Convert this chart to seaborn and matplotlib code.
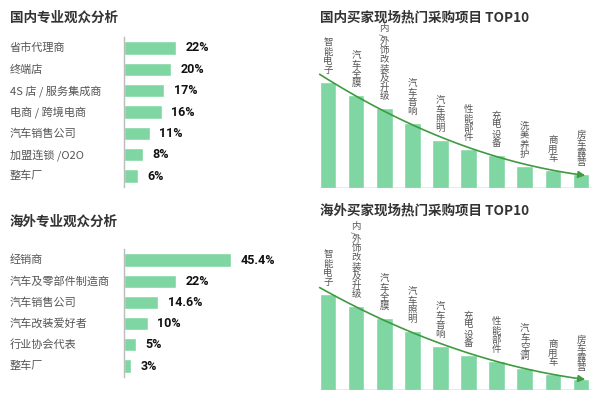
"""Exhibition visitor analysis: 4-panel seaborn recreation."""
import matplotlib
matplotlib.use("Agg")
import matplotlib.pyplot as plt
import matplotlib.transforms as mtransforms
import numpy as np
import pandas as pd
import seaborn as sns

# --- data ---
dom_types = ["省市代理商", "终端店", "4S 店 / 服务集成商", "电商 / 跨境电商", "汽车销售公司", "加盟连锁 /O2O", "整车厂"]
dom_share = [22, 20, 17, 16, 11, 8, 6]

ovs_types = ["经销商", "汽车及零部件制造商", "汽车销售公司", "汽车改装爱好者", "行业协会代表", "整车厂"]
ovs_share = [45.4, 22, 14.6, 10, 5, 3]

dom_items = ["智能电子", "汽车全膜", "内/外饰改装及升级", "汽车音响", "汽车照明",
             "性能部件", "充电设备", "洗美养护", "商用车", "房车露营"]
dom_score = [106, 93, 80, 65, 48, 39, 33, 22, 18, 14]

ovs_items = ["智能电子", "内/外饰改装及升级", "汽车全膜", "汽车照明", "汽车音响",
             "充电设备", "性能部件", "汽车空调", "商用车", "房车露营"]
ovs_score = [96, 84, 72, 59, 44, 35, 29, 22, 16, 11]

BAR = "#7fd6a2"
LINE = "#3f9a40"
W, H = 600, 400

sns.set_theme(style="white")
plt.rcParams["font.family"] = ["Noto Sans CJK SC", "DejaVu Sans"]

fig = plt.figure(figsize=(6, 4), dpi=100)
fig.patch.set_facecolor("white")


def px_axes(x0, y0, x1, y1):
    # pixel box (top-left origin) -> figure axes
    return fig.add_axes([x0 / W, 1 - y1 / H, (x1 - x0) / W, (y1 - y0) / H])


def title(x, y, s):
    fig.text(x / W, 1 - y / H, s, fontsize=9.75, fontweight="bold", color="#333333",
             ha="left", va="center")


def hbar_panel(ax, cats, vals):
    df = pd.DataFrame({"cat": cats, "val": vals})
    sns.barplot(data=df, y="cat", x="val", orient="h", color=BAR, width=0.62,
                saturation=1, ax=ax)
    ax.set_xlim(0, 74.5)
    ax.set_ylim(len(cats) - 0.5, -0.5)
    ax.set_xlabel("")
    ax.set_ylabel("")
    ax.set_xticks([])
    ax.set_yticks([])
    for s in ["top", "right", "bottom"]:
        ax.spines[s].set_visible(False)
    ax.spines["left"].set_color("#bbbbbb")
    ax.spines["left"].set_linewidth(1)
    tr = mtransforms.blended_transform_factory(fig.transFigure, ax.transData)
    for i, (c, v) in enumerate(zip(cats, vals)):
        ax.text(10 / W, i, c, transform=tr, ha="left", va="center", fontsize=8, color="#555555")
        lab = f"{v:g}%"
        ax.text(v + 4, i, lab, ha="left", va="center", fontsize=9,
                fontweight="bold", family=["Roboto", "DejaVu Sans"], color="#111111")


def vertical_label(ax, x, y0, label):
    # stack characters upward from y0 (1 data unit == 1 px here)
    cursor = y0
    for ch in reversed(label):
        step = 3.0 if ch == "/" else 9.2
        ax.text(x, cursor + step / 2, ch, ha="center", va="center", fontsize=6.8,
                color="#555555", rotation=90 if ch == "/" else 0)
        cursor += step


def vbar_panel(ax, items, vals):
    df = pd.DataFrame({"item": items, "val": vals})
    sns.barplot(data=df, x="item", y="val", color=BAR, width=0.59, saturation=1, ax=ax)
    ax.set_xlim(-0.5, 9.5)
    ax.set_ylim(0, 160)
    ax.set_xlabel("")
    ax.set_ylabel("")
    ax.set_xticks([])
    ax.set_yticks([])
    for s in ax.spines.values():
        s.set_visible(False)
    ax.axhline(0, xmin=0.02, xmax=0.985, color="#999999", lw=1)
    for i, (it, v) in enumerate(zip(items, vals)):
        vertical_label(ax, i, v + 7, it)
    # smooth trend line fitted through the bar tops
    coef = np.polyfit(np.arange(len(vals)), vals, 2)
    xs = np.linspace(-0.3, 9.25, 100)
    ys = np.polyval(coef, xs)
    ax.plot(xs[:-3], ys[:-3], color=LINE, lw=1.2)
    ax.annotate("", xy=(xs[-1], ys[-1]), xytext=(xs[-4], ys[-4]),
                arrowprops=dict(arrowstyle="-|>", color=LINE, lw=1.2, mutation_scale=10))


# top-left
title(10, 18, "国内专业观众分析")
ax1 = px_axes(124, 37.3, 300, 186.7)
hbar_panel(ax1, dom_types, dom_share)

# bottom-left
title(10, 222, "海外专业观众分析")
ax2 = px_axes(124, 249.4, 300, 376.6)
hbar_panel(ax2, ovs_types, ovs_share)

# top-right
title(320, 17, "国内买家现场热门采购项目 TOP10")
ax3 = px_axes(314, 28, 595, 188)
vbar_panel(ax3, dom_items, dom_score)

# bottom-right
title(320, 210, "海外买家现场热门采购项目 TOP10")
ax4 = px_axes(314, 230, 595, 390)
vbar_panel(ax4, ovs_items, ovs_score)

fig.savefig("out.png", dpi=100, facecolor="white")
